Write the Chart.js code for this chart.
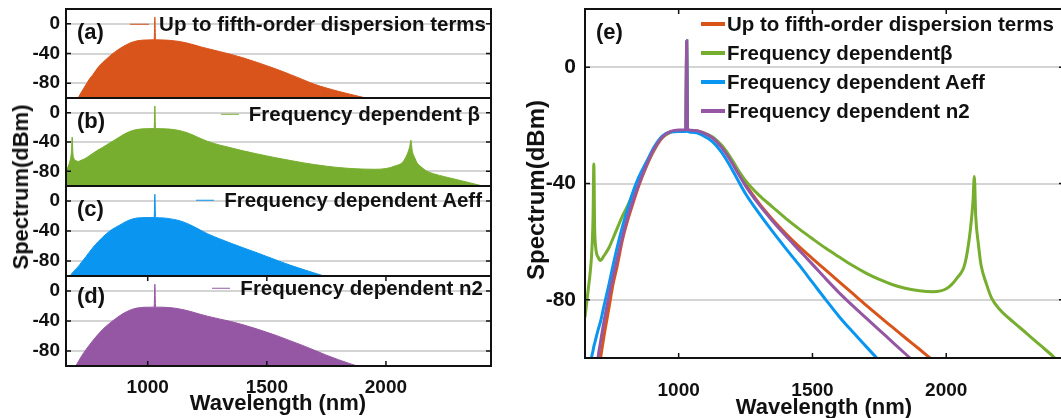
<!DOCTYPE html>
<html>
<head>
<meta charset="utf-8">
<script src="https://cdn.jsdelivr.net/npm/chart.js@4.4.0/dist/chart.umd.min.js"></script>
<style>
body { margin: 0; background: #fff; }
#fig { position: relative; width: 1061px; height: 418px; overflow: hidden; background: #fff;
  font-family: "Liberation Sans", Arial, sans-serif; font-weight: bold; color: #111; }
#fig canvas { position: absolute; }
.txt { position: absolute; white-space: nowrap; line-height: 1; transform: translateY(-50%); }
.ytit { position: absolute; white-space: nowrap; line-height: 1; transform: translate(-50%, -50%) rotate(-90deg); }
.xtit { position: absolute; white-space: nowrap; line-height: 1; transform: translate(-50%, -50%); }
.ley { position: absolute; display: flex; align-items: center; white-space: nowrap; line-height: 1; transform: translateY(-50%); }
.ley span.linea { display: inline-block; }
</style>
</head>
<body>
<div id="fig">
  <canvas id="panelA" width="500" height="98" style="left:0;top:0"></canvas>
  <canvas id="panelB" width="500" height="88" style="left:0;top:98px"></canvas>
  <canvas id="panelC" width="500" height="90" style="left:0;top:186px"></canvas>
  <canvas id="panelD" width="500" height="142" style="left:0;top:276px"></canvas>
  <canvas id="panelE" width="570" height="418" style="left:500px;top:0"></canvas>

  <div class="ytit" style="left:21px;top:187px;font-size:22px">Spectrum(dBm)</div>
  <div class="xtit" style="left:278px;top:403px;font-size:22px">Wavelength (nm)</div>
  <div class="ytit" style="left:536px;top:190px;font-size:24px">Spectrum(dBm)</div>
  <div class="xtit" style="left:824px;top:407px;font-size:22px">Wavelength (nm)</div>

  <div class="txt" style="left:77px;top:32px;font-size:22px">(a)</div>
  <div class="txt" style="left:77px;top:121px;font-size:22px">(b)</div>
  <div class="txt" style="left:77px;top:209px;font-size:22px">(c)</div>
  <div class="txt" style="left:77px;top:296px;font-size:22px">(d)</div>
  <div class="txt" style="left:596px;top:32px;font-size:22px">(e)</div>

  <div id="leyA" class="ley" style="right:575px;top:24px"></div>
  <div id="leyB" class="ley" style="right:581px;top:114px"></div>
  <div id="leyC" class="ley" style="right:579px;top:200px"></div>
  <div id="leyD" class="ley" style="right:578px;top:288px"></div>
  <div id="leyE" style="position:absolute;left:701px;top:0"></div>
</div>

<script>
// longitud de onda (nm)
var wavelength = [650, 660, 670, 675, 680, 683, 686, 690, 700, 708,
	720, 740, 754, 770, 791, 810, 827, 850, 880, 910,
	940, 970, 1000, 1027, 1030, 1033, 1060, 1090, 1127, 1160,
	1190, 1220, 1250, 1300, 1350, 1400, 1450, 1500, 1550, 1600,
	1650, 1700, 1750, 1800, 1850, 1900, 1950, 2000, 2040, 2070,
	2090, 2100, 2105, 2110, 2120, 2130, 2150, 2170, 2200, 2250,
	2300, 2350, 2400, 2450];

// espectros del panel (e) (dBm)
var fifthOrder = [-140, -133, -126, -122, -118, -116, -114, -111, -105, -100,
	-93, -82.5, -75, -68.5, -59, -52.5, -47.5, -41, -34, -28.3,
	-24.2, -22.3, -21.8, -21.7, 9, -21.7, -21.9, -22.6, -24.3, -27.4,
	-31.2, -35.8, -40.3, -46.8, -52.3, -57.2, -61.7, -65.8, -69.8, -73.8,
	-77.8, -81.8, -85.7, -89.5, -93.3, -97, -100.8, -104.5, -107.5, -110,
	-111.5, -112, -112.5, -113, -113.5, -114.3, -116, -117.5, -120, -124,
	-128, -132, -136, -140];

var freqBeta = [-86, -78, -70, -64, -52, -33.3, -55, -62, -65.5, -66.5,
	-65, -62, -59, -55.5, -51, -47.5, -44, -39.5, -33.5, -27.8,
	-24, -22.3, -21.8, -21.7, 9, -21.7, -21.9, -22.4, -24, -26.8,
	-30.5, -35, -39, -44, -48, -52, -55.6, -59, -62.3, -65.3,
	-68.2, -70.8, -73, -74.8, -76.1, -76.9, -77.2, -76.2, -72.5, -67.5,
	-56, -46, -37.6, -51, -60.8, -68, -74.5, -79.5, -83.3, -87.6,
	-91.5, -95.5, -99.5, -104];

var freqAeff = [-113, -107.5, -102, -99.5, -97.5, -96, -95, -93.5, -90, -87.5,
	-82.5, -74.5, -68.5, -62, -54.5, -48.5, -43.5, -38, -32.5, -27.2,
	-23.6, -22.3, -22.1, -22.1, 9, -22.1, -22.5, -23.5, -25.7, -29.2,
	-33.6, -38.6, -43.5, -50.2, -56.4, -62.3, -68, -74, -80, -85.8,
	-91, -96, -101, -106, -111, -116, -121, -126, -130, -133,
	-135, -136, -136.5, -137, -138, -139, -141, -143, -146, -151,
	-156, -161, -166, -171];

var freqN2 = [-140, -132, -124, -120, -115, -112.5, -110, -107, -99, -94.5,
	-88, -78.5, -72.5, -66, -58, -51.5, -46.5, -40.5, -33.5, -27.8,
	-23.9, -22.1, -21.6, -21.5, 9, -21.5, -21.8, -22.5, -24.3, -27.5,
	-31.5, -36.2, -40.8, -47.2, -52.8, -58, -62.9, -67.8, -72.8, -77.6,
	-82, -86.2, -90.4, -94.6, -98.8, -103, -107, -111, -114, -116.5,
	-118, -119, -119.5, -120, -121, -122, -123.5, -125, -127.5, -131.5,
	-135.5, -139.5, -143.5, -147.5];

// paneles (a) y (d) caen mas despacio que en (e)
var fifthOrderLeft = [-140, -133, -126, -122, -118, -116, -114, -111, -105, -100,
	-93, -82.5, -75, -68.5, -59, -52.5, -47.5, -41, -34, -28.3,
	-24.2, -22.3, -21.7, -21.6, 9, -21.6, -21.7, -22.2, -23.5, -25.5,
	-28, -30.8, -33.3, -37.2, -41.2, -45.8, -51, -56.5, -62.3, -68.5,
	-75, -81.5, -86.5, -91, -95, -98.8, -102.5, -106, -109, -111,
	-112.5, -113, -113.5, -114, -114.5, -115, -116.5, -118, -120, -124,
	-128, -132, -136, -140];

var freqN2Left = [-140, -132, -124, -120, -115, -112.5, -110, -107, -99, -94.5,
	-88, -78.5, -72.5, -66, -58, -51.5, -46.5, -40.5, -33.5, -27.8,
	-23.9, -22.1, -21.6, -21.5, 9, -21.5, -21.6, -22.1, -23.5, -25.7,
	-28.2, -31, -33.5, -37.2, -40.8, -45, -49.8, -55, -60.5, -66.5,
	-72.5, -79, -85.5, -91.5, -97, -102, -106.5, -110.5, -113.5, -115.5,
	-117, -117.5, -118, -118.5, -119, -120, -121.5, -123, -125.5, -129.5,
	-133.5, -137.5, -141.5, -145.5];

var yTicks = [-80, -40, 0];
var xTicks = [1000, 1500, 2000];
var nombres = ["Up to fifth-order dispersion terms", "Frequency dependent \u03b2", "Frequency dependent Aeff", "Frequency dependent n2"];
var nombresE = ["Up to fifth-order dispersion terms", "Frequency dependent\u03b2", "Frequency dependent Aeff", "Frequency dependent n2"];
var colores = ["#D8541A", "#77AE2F", "#0A96F0", "#9557A3"];

Chart.defaults.font.family = '"Liberation Sans", Arial, sans-serif';
Chart.defaults.font.weight = "bold";
Chart.defaults.color = "#111";

function puntos(valores) {
	return wavelength.map(function(w, i) {
		return { x: w, y: valores[i] };
	});
}

// marco negro y marcas hacia dentro
var marco = {
	id: "marco",
	afterDraw: function(chart, args, opts) {
		var ctx = chart.ctx, a = chart.chartArea;
		var sy = chart.scales.y, sx = chart.scales.x;
		ctx.save();
		ctx.strokeStyle = "#111";
		ctx.lineWidth = 2;
		ctx.strokeRect(a.left, a.top, a.right - a.left, a.bottom - a.top);
		ctx.lineWidth = 1.5;
		ctx.beginPath();
		yTicks.forEach(function(v) {
			var py = sy.getPixelForValue(v);
			ctx.moveTo(a.left, py);
			ctx.lineTo(a.left + 5, py);
			ctx.moveTo(a.right, py);
			ctx.lineTo(a.right - 5, py);
		});
		if (opts.xTicks) {
			xTicks.forEach(function(v) {
				var px = sx.getPixelForValue(v);
				ctx.moveTo(px, a.bottom);
				ctx.lineTo(px, a.bottom - 5);
				ctx.moveTo(px, a.top);
				ctx.lineTo(px, a.top + 5);
			});
		}
		ctx.stroke();
		ctx.restore();
	}
};

function escalaY(ancho, tamFuente, relleno) {
	return {
		min: -100,
		max: 20,
		afterBuildTicks: function(s) {
			s.ticks = yTicks.map(function(v) { return { value: v }; });
		},
		afterFit: function(s) {
			s.width = ancho;
			s.paddingTop = 0;
			s.paddingBottom = 0;
		},
		grid: { color: "#d4d4d4", lineWidth: 2, drawTicks: false },
		border: { display: false },
		ticks: { font: { size: tamFuente, weight: "bold" }, color: "#111", padding: relleno }
	};
}

function escalaX(min, max, mostrar, alto, relleno) {
	return {
		type: "linear",
		min: min,
		max: max,
		display: mostrar,
		afterBuildTicks: function(s) {
			s.ticks = xTicks.map(function(v) { return { value: v }; });
		},
		afterFit: function(s) {
			s.height = mostrar ? alto : 0;
			s.paddingLeft = 0;
			s.paddingRight = 0;
		},
		grid: { display: false, drawTicks: false },
		border: { display: false },
		ticks: {
			font: { size: 19, weight: "bold" },
			color: "#111",
			padding: relleno,
			callback: function(v) { return String(v); }
		}
	};
}

function panelIzq(id, valores, i, arriba, conEjeX) {
	return new Chart(document.getElementById(id), {
		type: "line",
		data: {
			datasets: [ {
				label: nombres[i],
				data: puntos(valores),
				borderColor: colores[i],
				backgroundColor: colores[i],
				borderWidth: 1,
				fill: "start",
				pointRadius: 0,
				cubicInterpolationMode: "monotone"
			} ]
		},
		options: {
			responsive: false,
			animation: false,
			events: [],
			layout: { padding: { top: arriba, right: 9, bottom: 0, left: 0 } },
			plugins: { legend: { display: false }, tooltip: { enabled: false }, marco: { xTicks: conEjeX } },
			scales: {
				x: escalaX(657, 2441, conEjeX, 52, 10),
				y: escalaY(66, 19, 6)
			}
		},
		plugins: [ marco ]
	});
}

// leyenda html a partir de los datasets
function leyenda(idCaja, chart, largo, grosor, hueco, tamFuente, filaAlto) {
	var caja = document.getElementById(idCaja);
	chart.data.datasets.forEach(function(ds, k) {
		var fila = document.createElement("div");
		fila.style.display = "flex";
		fila.style.alignItems = "center";
		fila.style.fontSize = tamFuente + "px";
		if (filaAlto) {
			fila.style.position = "absolute";
			fila.style.left = "0";
			fila.style.top = (filaAlto[k]) + "px";
			fila.style.transform = "translateY(-50%)";
			fila.style.whiteSpace = "nowrap";
		}
		var linea = document.createElement("span");
		linea.className = "linea";
		linea.style.width = largo + "px";
		linea.style.height = grosor + "px";
		linea.style.background = ds.borderColor;
		linea.style.marginRight = hueco + "px";
		var txt = document.createElement("span");
		txt.textContent = ds.label;
		fila.appendChild(linea);
		fila.appendChild(txt);
		caja.appendChild(fila);
	});
}

var chartA = panelIzq("panelA", fifthOrderLeft, 0, 9, false);
var chartB = panelIzq("panelB", freqBeta, 1, 0, false);
var chartC = panelIzq("panelC", freqAeff, 2, 0, false);
var chartD = panelIzq("panelD", freqN2Left, 3, 0, true);

leyenda("leyA", chartA, 19, 1.5, 10, 20.5);
leyenda("leyB", chartB, 18, 1.5, 10, 20.5);
leyenda("leyC", chartC, 18, 1.5, 10, 20.5);
leyenda("leyD", chartD, 18, 1.5, 10, 20.5);

var seriesE = [fifthOrder, freqBeta, freqAeff, freqN2];
var chartE = new Chart(document.getElementById("panelE"), {
	type: "line",
	data: {
		datasets: seriesE.map(function(valores, i) {
			return {
				label: nombresE[i],
				data: puntos(valores),
				borderColor: colores[i],
				backgroundColor: colores[i],
				borderWidth: 3,
				fill: false,
				pointRadius: 0,
				cubicInterpolationMode: "monotone",
				order: 4 - i
			};
		})
	},
	options: {
		responsive: false,
		animation: false,
		events: [],
		layout: { padding: { top: 9, right: 6, bottom: 0, left: 0 } },
		plugins: { legend: { display: false }, tooltip: { enabled: false }, marco: { xTicks: true } },
		scales: {
			x: escalaX(650, 2440, true, 60, 21),
			y: escalaY(85, 21, 9)
		}
	},
	plugins: [ marco ]
});

leyenda("leyE", chartE, 24, 4, 2, 20.5, [24, 53, 82, 111]);
</script>
</body>
</html>
